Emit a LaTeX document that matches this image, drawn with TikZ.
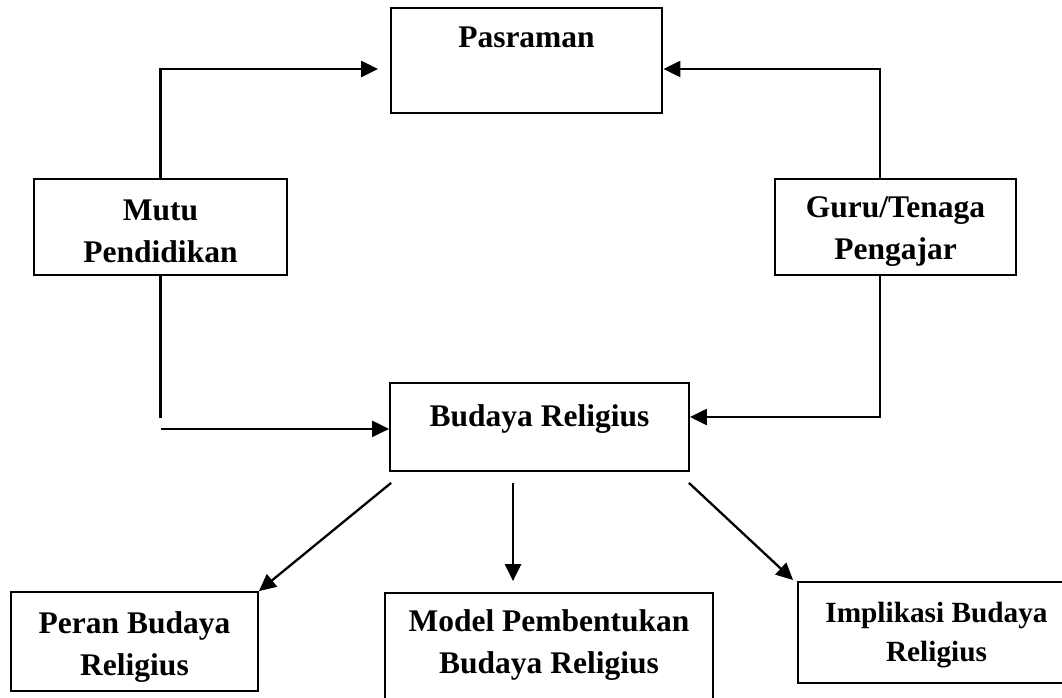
\documentclass[tikz,border=0pt]{standalone}
\usepackage{fontspec}
\setmainfont{Liberation Serif}
\usetikzlibrary{
  arrows.meta,
  calc,
  positioning,
}
\tikzset{
  >={Triangle[length=17pt,width=16pt]},
  box/.style={draw, line width=1.8pt, inner sep=0pt},
  txt/.style={inner sep=0pt, align=center,
    font=\bfseries\fontsize{31.5}{42}\selectfont},
  link/.style={line width=2.3pt},
}

\begin{document}
\begin{tikzpicture}[x=1pt, y=-1pt]
  \useasboundingbox (0,0) rectangle (1062,698);
  \clip (0,0) rectangle (1062,698);
  % boxes
  \node[box, minimum width=271pt, minimum height=105pt,
    label={[txt, yshift=23.5pt]center:Pasraman}] (pasraman) at (526.5,60.5) {};
  \node[box, minimum width=253pt, minimum height=96pt,
    label={[txt, yshift=-4.5pt]center:{Mutu\\Pendidikan}}] (mutu) at (160.5,227) {};
  \node[box, minimum width=241pt, minimum height=96pt,
    label={[txt, yshift=-5pt]center:{Guru/Tenaga\\Pengajar}}] (guru) at (895.5,227) {};
  \node[box, minimum width=299pt, minimum height=88pt,
    label={[txt, yshift=8pt]center:Budaya Religius}] (budaya) at (539.5,427) {};
  \node[box, minimum width=247pt, minimum height=99pt,
    label={[txt, yshift=-6pt]center:{Peran Budaya\\Religius}}] (peran) at (134.5,641.5) {};
  \node[box, minimum width=328pt, minimum height=130pt,
    label={[txt, yshift=12.5pt]center:{Model Pembentukan\\Budaya Religius}}] (model) at (549,658) {};
  \node[box, minimum width=277pt, minimum height=101pt,
    label={[txt, yshift=-3pt, font=\bfseries\fontsize{29.3}{39}\selectfont]center:{Implikasi Budaya\\Religius}}] (implikasi) at (936.5,632.5) {};
  % upper loop
  \draw[link, ->] (mutu.north) |- ($(pasraman.west)+(-12,8.5)$);
  \draw[link, ->] ($(guru.north)+(-15.5,0)$) |- ($(pasraman.east)+(0.5,8.5)$);
  % lower loop
  \coordinate (mutubend) at ($(mutu.south)+(0,142)$);
  \coordinate (mututurn) at ($(mutu.south)+(0,153)$);
  \draw[link] (mutu.south) -- (mutubend);
  \draw[link, ->] (mututurn) -- (mututurn -| budaya.west);
  \draw[link, ->] ($(guru.south)+(-15.5,0)$) |- ($(budaya.east)+(0,-10)$);
  % outputs
  \draw[link, ->] ($(budaya.south west)+(2,11)$) -- (peran.north east);
  \draw[link, ->] ($(budaya.south)+(-26.5,11)$) -- ($(model.north)+(-36,-11)$);
  \draw[link, ->] ($(budaya.south east)+(-1,11)$) -- ($(implikasi.north west)+(-4,-1)$);
\end{tikzpicture}
\end{document}
